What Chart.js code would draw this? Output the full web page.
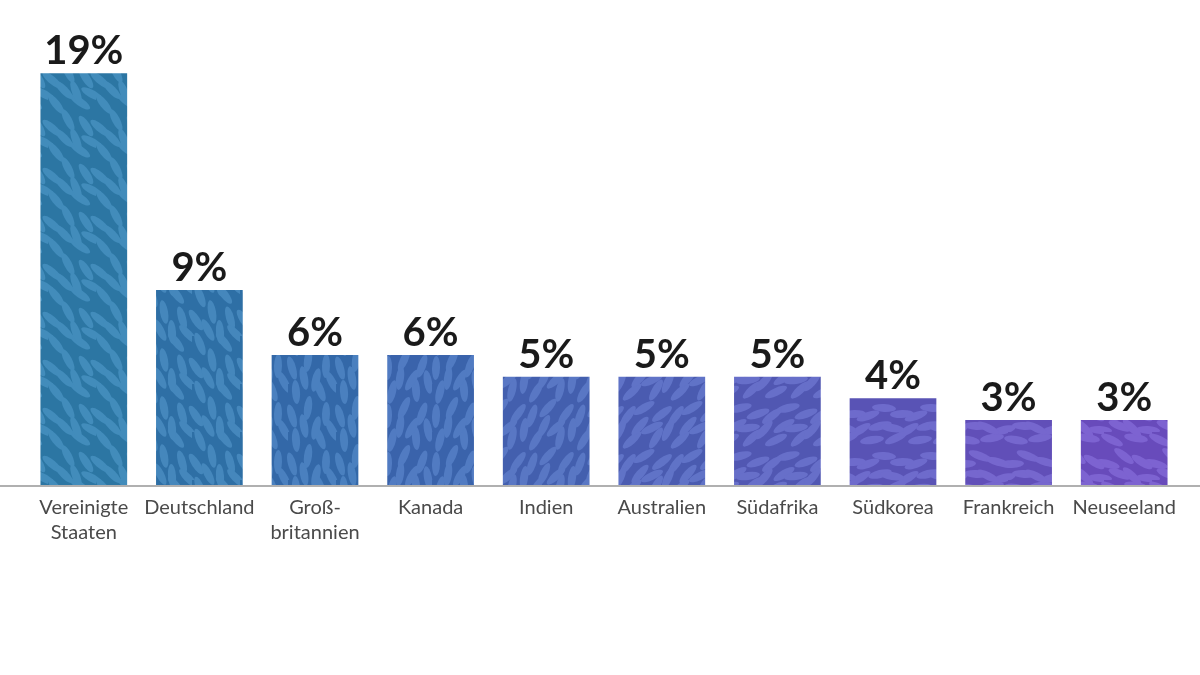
<!DOCTYPE html>
<html>
<head>
<meta charset="utf-8">
<script src="https://cdn.jsdelivr.net/npm/chart.js@4"></script>
<style>
  html, body { margin: 0; padding: 0; background: #ffffff; }
  #wrap { width: 1200px; height: 675px; }
</style>
</head>
<body>
<div id="wrap"><canvas id="chart" width="1200" height="675"></canvas></div>
<script>
// data
const countries = [
  ['Vereinigte', 'Staaten'], 'Deutschland', ['Groß-', 'britannien'], 'Kanada', 'Indien',
  'Australien', 'Südafrika', 'Südkorea', 'Frankreich', 'Neuseeland'
];
const shares = [19, 9, 6, 6, 5, 5, 5, 4, 3, 3];

// bar fills, blue to purple
const baseColors = ['#2c76a3', '#2e6fa5', '#3368a8', '#3a63ab', '#435fae', '#4a5bb0', '#5157b2', '#5953b5', '#614fb8', '#684bbb'];
const leafColors = ['#428cbb', '#4587bc', '#4a80bf', '#517bc2', '#5977c4', '#6073c7', '#676fc9', '#6e6bcc', '#7667ce', '#7d63d1'];

// leafy pattern tile for each bar
function leafPattern(base, leaf, seed) {
  const tile = document.createElement('canvas');
  tile.width = 48; tile.height = 48;
  const c = tile.getContext('2d');
  c.fillStyle = base;
  c.fillRect(0, 0, 48, 48);
  c.fillStyle = leaf;
  const leaves = [
    [8, 8, 0.9], [32, 6, 0.6], [20, 24, 1.1], [4, 32, 0.7], [38, 30, 1.0], [16, 42, 0.8], [44, 46, 0.5], [28, 44, 1.2]
  ];
  leaves.forEach(([x, y, a]) => {
    [[0, 0], [48, 0], [0, 48], [-48, 0], [0, -48]].forEach(([dx, dy]) => {
      c.save();
      c.translate(x + dx, y + dy);
      c.rotate(a + seed * 0.3);
      c.beginPath();
      c.ellipse(0, 0, 12, 4, 0, 0, Math.PI * 2);
      c.fill();
      c.restore();
    });
  });
  return c.createPattern(tile, 'repeat');
}

const ctx = document.getElementById('chart').getContext('2d');
const fills = baseColors.map((b, i) => leafPattern(b, leafColors[i], i));

// value labels above the bars
const valueLabels = {
  id: 'valueLabels',
  afterDatasetsDraw(chart) {
    const c = chart.ctx;
    const meta = chart.getDatasetMeta(0);
    c.save();
    c.font = 'bold 40px Lato';
    c.fillStyle = '#1a1a1a';
    c.textAlign = 'center';
    c.textBaseline = 'alphabetic';
    meta.data.forEach((bar, i) => {
      c.fillText(shares[i] + '%', bar.x, bar.y - 9);
    });
    c.restore();
  }
};

// baseline across the full width
const baseLine = {
  id: 'baseLine',
  afterDatasetsDraw(chart) {
    const c = chart.ctx;
    const y = chart.scales.y.getPixelForValue(0);
    c.save();
    c.strokeStyle = '#b0b0b0';
    c.lineWidth = 2;
    c.beginPath();
    c.moveTo(0, y + 1);
    c.lineTo(chart.width, y + 1);
    c.stroke();
    c.restore();
  }
};

new Chart(ctx, {
  type: 'bar',
  data: {
    labels: countries,
    datasets: [{
      data: shares,
      backgroundColor: fills,
      borderWidth: 0,
      barPercentage: 0.75,
      categoryPercentage: 1.0
    }]
  },
  options: {
    responsive: false,
    animation: false,
    layout: { padding: { left: 26, right: 18, top: 30, bottom: 0 } },
    plugins: {
      legend: { display: false },
      tooltip: { enabled: false }
    },
    scales: {
      x: {
        grid: { display: false, drawTicks: false },
        border: { display: false },
        ticks: {
          color: '#4a4a4a',
          font: { family: 'Lato', size: 20, lineHeight: 1.25 },
          padding: 10,
          maxRotation: 0,
          autoSkip: false
        },
        afterFit(scale) { scale.height = 190; }
      },
      y: {
        display: false,
        min: 0,
        max: 21
      }
    }
  },
  plugins: [valueLabels, baseLine]
});
</script>
</body>
</html>
